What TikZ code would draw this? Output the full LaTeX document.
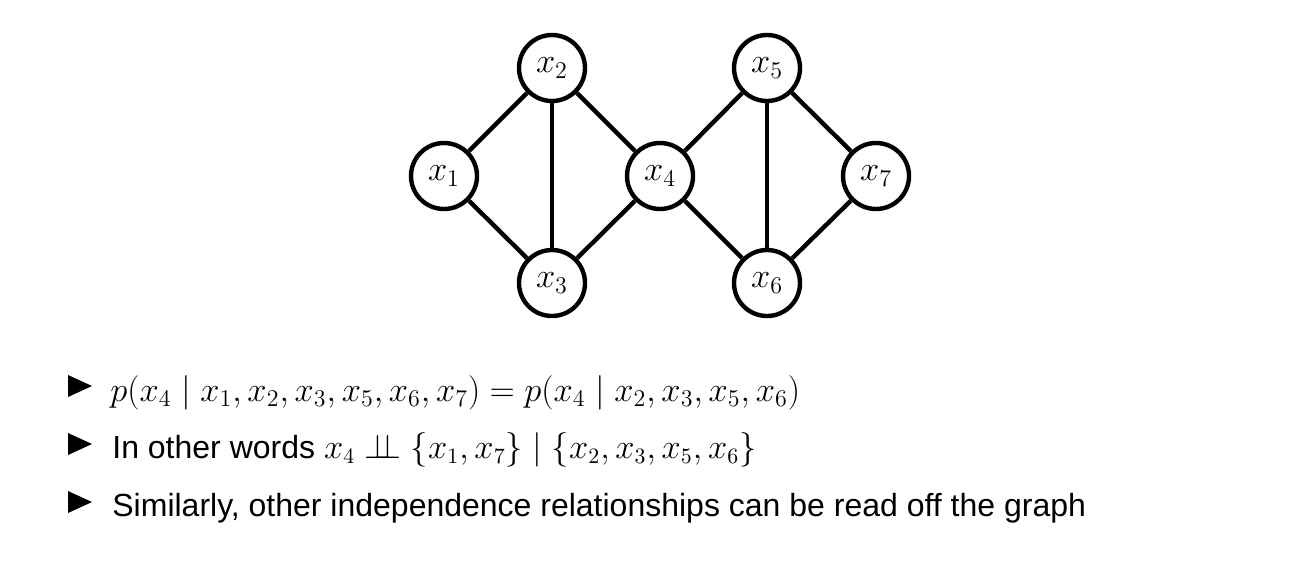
\documentclass[tikz,border=0pt]{standalone}
\usepackage{fontspec}
\setmainfont{Liberation Sans}
\usepackage{graphicx}
\begin{document}
\begin{tikzpicture}[x=0.5pt,y=-0.5pt,
  var/.style={circle,draw,line width=2.2pt,minimum size=33pt,inner sep=0pt,font=\fontsize{18}{21}\selectfont},
  item/.style={anchor=base west,inner sep=0pt,font=\fontsize{16}{19}\selectfont}]
\useasboundingbox (0,0) rectangle (1310,574);
\path[line width=2.2pt]
(444,176) node[var](x1){$x_1$}
(552,68) node[var](x2){$x_2$}
(552,283) node[var](x3){$x_3$}
(660,176) node[var](x4){$x_4$}
(767,68) node[var](x5){$x_5$}
(767,283) node[var](x6){$x_6$}
(876,176) node[var](x7){$x_7$};
\path[draw,line width=2.2pt] (x1)--(x2);
\path[draw,line width=2.2pt] (x1)--(x3);
\path[draw,line width=2.2pt] (x2)--(x3);
\path[draw,line width=2.2pt] (x2)--(x4);
\path[draw,line width=2.2pt] (x3)--(x4);
\path[draw,line width=2.2pt] (x4)--(x5);
\path[draw,line width=2.2pt] (x4)--(x6);
\path[draw,line width=2.2pt] (x5)--(x6);
\path[draw,line width=2.2pt] (x5)--(x7);
\path[draw,line width=2.2pt] (x6)--(x7);
% bullets
\foreach \y in {386,444,502}
  \fill (68,\y-11)--(92,\y)--(68,\y+11)--cycle;
\node[item,font=\fontsize{16.6}{19}\selectfont] (l1) at (110,401) {$p(x_4\mid x_1,x_2,x_3,x_5,x_6,x_7)=p(x_4\mid x_2,x_3,x_5,x_6)$};
\node[item] (l2) at (112,458) {In other words $x_4 \mathrel{\perp\!\!\!\perp} \{x_1,x_7\}\mid\{x_2,x_3,x_5,x_6\}$};
\node[item] (l3) at (112,516) {Similarly, other independence relationships can be read off the graph};
\end{tikzpicture}
\end{document}
